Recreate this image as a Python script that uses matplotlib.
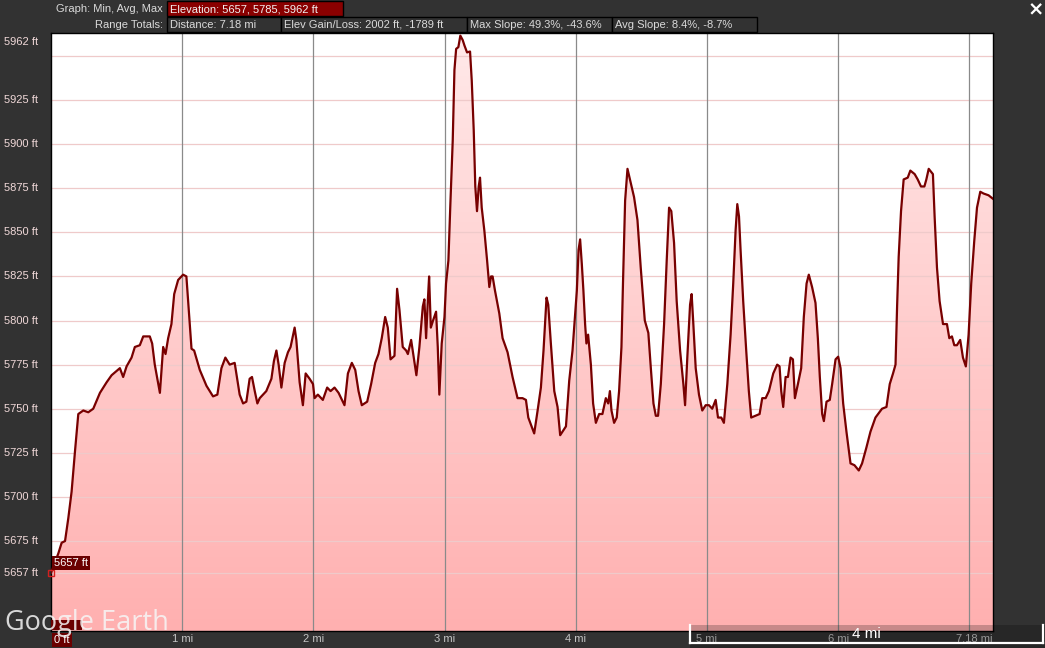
import matplotlib
matplotlib.use("Agg")
import matplotlib.pyplot as plt
import numpy as np
from matplotlib.patches import Rectangle, Polygon
from matplotlib.lines import Line2D
from matplotlib.colors import LinearSegmentedColormap
from matplotlib.transforms import ScaledTranslation

# ---------------- data ----------------
distance_mi = [
    0.000, 0.056, 0.081, 0.107, 0.132, 0.157, 0.183, 0.208, 0.246, 0.284, 0.322, 0.373, 0.424, 0.462,
    0.525, 0.550, 0.576, 0.614, 0.639, 0.677, 0.703, 0.753, 0.771, 0.791, 0.830, 0.855, 0.873, 0.893,
    0.918, 0.939, 0.969, 1.007, 1.032, 1.050, 1.071, 1.091, 1.134, 1.185, 1.235, 1.268, 1.299, 1.329,
    1.362, 1.400, 1.438, 1.464, 1.489, 1.514, 1.532, 1.553, 1.573, 1.591, 1.641, 1.680, 1.699, 1.718,
    1.735, 1.756, 1.781, 1.806, 1.826, 1.857, 1.870, 1.895, 1.920, 1.941, 1.971, 1.997, 2.009, 2.034,
    2.072, 2.105, 2.131, 2.161, 2.192, 2.237, 2.263, 2.293, 2.319, 2.344, 2.369, 2.410, 2.440, 2.471,
    2.496, 2.521, 2.547, 2.567, 2.588, 2.618, 2.638, 2.656, 2.681, 2.707, 2.720, 2.745, 2.765, 2.785,
    2.808, 2.834, 2.846, 2.859, 2.872, 2.882, 2.895, 2.912, 2.935, 2.948, 2.960, 2.978, 2.999, 3.011,
    3.029, 3.044, 3.062, 3.075, 3.088, 3.105, 3.120, 3.138, 3.151, 3.171, 3.194, 3.207, 3.222, 3.234,
    3.247, 3.260, 3.270, 3.283, 3.303, 3.324, 3.341, 3.354, 3.366, 3.384, 3.417, 3.442, 3.480, 3.518,
    3.556, 3.594, 3.620, 3.638, 3.663, 3.683, 3.709, 3.734, 3.754, 3.777, 3.790, 3.810, 3.836, 3.861,
    3.881, 3.899, 3.925, 3.950, 3.975, 4.008, 4.021, 4.033, 4.046, 4.058, 4.071, 4.081, 4.094, 4.115,
    4.132, 4.153, 4.178, 4.203, 4.229, 4.247, 4.260, 4.272, 4.292, 4.312, 4.330, 4.348, 4.360, 4.376,
    4.394, 4.419, 4.444, 4.470, 4.495, 4.526, 4.553, 4.572, 4.592, 4.610, 4.627, 4.648, 4.673, 4.693,
    4.711, 4.728, 4.749, 4.769, 4.795, 4.820, 4.833, 4.850, 4.871, 4.883, 4.896, 4.914, 4.939, 4.964,
    4.990, 5.015, 5.040, 5.066, 5.084, 5.109, 5.129, 5.155, 5.180, 5.200, 5.218, 5.231, 5.244, 5.256,
    5.276, 5.299, 5.319, 5.337, 5.370, 5.401, 5.421, 5.447, 5.472, 5.505, 5.535, 5.553, 5.566, 5.581,
    5.599, 5.617, 5.637, 5.655, 5.670, 5.693, 5.718, 5.738, 5.759, 5.776, 5.801, 5.827, 5.845, 5.860,
    5.878, 5.891, 5.911, 5.936, 5.954, 5.980, 6.000, 6.018, 6.038, 6.063, 6.094, 6.124, 6.157, 6.182,
    6.215, 6.246, 6.284, 6.334, 6.368, 6.393, 6.418, 6.437, 6.449, 6.461, 6.479, 6.499, 6.530, 6.550,
    6.583, 6.606, 6.631, 6.657, 6.672, 6.690, 6.722, 6.735, 6.753, 6.773, 6.799, 6.829, 6.847, 6.867,
    6.885, 6.905, 6.930, 6.951, 6.973, 6.994, 7.014, 7.037, 7.058, 7.083, 7.108, 7.146, 7.180,
]
elevation_ft = [
    5657, 5668, 5674, 5675, 5688, 5703, 5726, 5747, 5749, 5748, 5750, 5759, 5765, 5769,
    5773, 5768, 5774, 5779, 5785, 5786, 5791, 5791, 5787, 5775, 5759, 5785, 5781, 5790,
    5798, 5815, 5823, 5826, 5825, 5806, 5784, 5783, 5772, 5763, 5757, 5758, 5773, 5779,
    5775, 5776, 5758, 5753, 5754, 5767, 5768, 5760, 5753, 5756, 5760, 5767, 5777, 5783,
    5775, 5762, 5776, 5782, 5785, 5796, 5789, 5765, 5752, 5770, 5767, 5764, 5756, 5758,
    5755, 5762, 5760, 5762, 5759, 5752, 5770, 5776, 5772, 5760, 5752, 5754, 5764, 5776,
    5781, 5790, 5802, 5796, 5778, 5780, 5818, 5806, 5785, 5783, 5781, 5789, 5779, 5769,
    5785, 5808, 5812, 5790, 5811, 5825, 5796, 5800, 5805, 5785, 5758, 5787, 5802, 5821,
    5834, 5866, 5902, 5942, 5954, 5955, 5961.5, 5959, 5956, 5952, 5952.5, 5936, 5908, 5876,
    5862, 5876, 5881, 5864, 5851, 5834, 5819, 5825, 5825, 5817, 5804, 5790, 5782, 5768,
    5756, 5756, 5755, 5745, 5740, 5736, 5749, 5762, 5783, 5813, 5809, 5787, 5760, 5751,
    5735, 5737, 5740, 5766, 5783, 5817, 5840, 5846, 5832, 5817, 5798, 5787, 5792, 5775,
    5753, 5742, 5747, 5747, 5756, 5753, 5760, 5749, 5742, 5745, 5760, 5785, 5822, 5868,
    5886, 5878, 5870, 5857, 5830, 5800, 5793, 5773, 5753, 5746, 5746, 5764, 5798, 5834,
    5864, 5862, 5844, 5811, 5783, 5764, 5752, 5779, 5809, 5815, 5798, 5773, 5758, 5749,
    5752, 5752, 5750, 5755, 5745, 5745, 5742, 5764, 5792, 5821, 5851, 5866, 5859, 5840,
    5811, 5783, 5760, 5745, 5746, 5747, 5756, 5756, 5760, 5770, 5775, 5774, 5760, 5751,
    5768, 5768, 5779, 5778, 5756, 5764, 5773, 5802, 5821, 5826, 5819, 5810, 5790, 5768,
    5747, 5743, 5754, 5755, 5764, 5778, 5779.5, 5773, 5753, 5737, 5719, 5718, 5715, 5719,
    5728, 5737, 5745, 5750, 5751, 5764, 5770, 5775, 5808, 5836, 5862, 5880, 5881, 5885,
    5883, 5880, 5876, 5876, 5880, 5886, 5883, 5859, 5830, 5811, 5798, 5798, 5790, 5791,
    5786, 5786, 5789, 5779, 5774, 5792, 5821, 5845, 5864, 5873, 5872, 5871, 5869,
]

y_grid_values = [5657, 5675, 5700, 5725, 5750, 5775, 5800, 5825, 5850, 5875, 5900, 5925, 5950]
y_label_values = [5657, 5675, 5700, 5725, 5750, 5775, 5800, 5825, 5850, 5875, 5900, 5925]
y_top_label = 5962
x_grid_values = [1, 2, 3, 4, 5, 6, 7]
x_label_values = [1, 2, 3, 4, 5, 6, 7.18]
x_label_texts = ["1 mi", "2 mi", "3 mi", "4 mi", "5 mi", "6 mi", "7.18 mi"]

header_row1_label = "Graph: Min, Avg, Max"
header_row1_box = "Elevation: 5657, 5785, 5962 ft"
header_row2_label = "Range Totals:"
header_row2_boxes = ["Distance: 7.18 mi", "Elev Gain/Loss: 2002 ft, -1789 ft",
                     "Max Slope: 49.3%, -43.6%", "Avg Slope: 8.4%, -8.7%"]

# ---------------- figure ----------------
W, H = 1045, 648
BG = "#323232"
plt.rcParams["font.family"] = ["Liberation Sans", "DejaVu Sans"]
fig = plt.figure(figsize=(W / 100, H / 100), dpi=100, facecolor=BG)


def fx(px):
    return px / W


def fy(py):
    return (H - py) / H


ax_l, ax_r, ax_t, ax_b = 51, 993, 33, 631
ax = fig.add_axes([fx(ax_l), fy(ax_b), (ax_r - ax_l) / W, (ax_b - ax_t) / H])
ax.set_facecolor("white")
XMIN, XMAX = 0, 7.18
YMIN, YMAX = 5624, 5963

# gradient fill under the profile
cmap = LinearSegmentedColormap.from_list("pinkgrad", ["#ffb0b0", "#ffe9e9"])
grad = np.linspace(0, 1, 256).reshape(-1, 1)
im = ax.imshow(grad, extent=[XMIN, XMAX, YMIN, YMAX], origin="lower", aspect="auto",
               cmap=cmap, zorder=1, interpolation="bilinear")
poly_x = [distance_mi[0]] + list(distance_mi) + [distance_mi[-1]]
poly_y = [YMIN] + list(elevation_ft) + [YMIN]
clip = Polygon(np.column_stack([poly_x, poly_y]), closed=True, transform=ax.transData,
               facecolor="none", edgecolor="none")
ax.add_patch(clip)
im.set_clip_path(clip)

for v in y_grid_values:
    ax.axhline(v, color="#efcaca", lw=0.9, zorder=2)
for v in x_grid_values:
    ax.axvline(v, color="#8a8a8a", lw=0.9, zorder=2)

ax.plot(distance_mi, elevation_ft, color="#780000", lw=1.6, zorder=4, solid_joinstyle="round")

ax.set_xlim(XMIN, XMAX)
ax.set_ylim(YMIN, YMAX)
ax.set_xticks([])
ax.set_yticks([])
for s in ax.spines.values():
    s.set_color("black")
    s.set_linewidth(1.0)

# y labels
ytr = ax.get_yaxis_transform()
lab_x = -47 / (ax_r - ax_l)
for v in y_label_values:
    ax.text(lab_x, v, f"{v} ft", transform=ytr, ha="left", va="center",
            color="#f0d8d8", fontsize=8, clip_on=False)
ax.text(lab_x, y_top_label, f"{y_top_label} ft",
        transform=ytr + ScaledTranslation(0, -7 / 100, fig.dpi_scale_trans),
        ha="left", va="center", color="#f0d8d8", fontsize=8, clip_on=False)

# x labels
xtr = ax.get_xaxis_transform()
lab_y = -8.5 / (ax_b - ax_t)
for v, t in zip(x_label_values, x_label_texts):
    ha = "right" if v == x_label_values[-1] else "center"
    ax.text(v, lab_y, t, transform=xtr, ha=ha, va="center", color="#c4c4c4",
            fontsize=8, clip_on=False)

# start marker and its label
ax.plot([distance_mi[0]], [elevation_ft[0]], marker="s", ms=5, mfc="none", mec="#d42020",
        mew=1.0, clip_on=False, zorder=6)
ax.annotate(f"{elevation_ft[0]} ft", xy=(distance_mi[0], elevation_ft[0]), xytext=(3, 10),
            textcoords="offset pixels", ha="left", va="center", color="white", fontsize=8,
            bbox=dict(boxstyle="square,pad=0.18", fc="#6a0000", ec="none"), zorder=7,
            annotation_clip=False)

# ---------------- header ----------------
hdr_col = "#dadada"
fig.text(fx(163), fy(9), header_row1_label, ha="right", va="center", color=hdr_col, fontsize=8)
fig.patches.append(Rectangle((fx(167), fy(16)), fx(343) - fx(167), fy(1) - fy(16),
                             transform=fig.transFigure, fc="#8a0000", ec="black", lw=1))
fig.text(fx(170), fy(9), header_row1_box, ha="left", va="center", color="#f2f2f2", fontsize=8)

fig.text(fx(163), fy(24.5), header_row2_label, ha="right", va="center", color=hdr_col, fontsize=8)
edges = [167, 281, 467, 612, 757]
for i, t in enumerate(header_row2_boxes):
    l, r = edges[i], edges[i + 1]
    fig.patches.append(Rectangle((fx(l), fy(32)), fx(r) - fx(l), fy(17) - fy(32),
                                 transform=fig.transFigure, fc=BG, ec="black", lw=1))
    fig.text(fx(l + 3), fy(24.5), t, ha="left", va="center", color=hdr_col, fontsize=8)

fig.text(fx(1036), fy(10), "×", ha="center", va="center", color="white", fontsize=14,
         fontweight="bold", family="DejaVu Sans")

# ---------------- bottom overlays ----------------
fig.patches.append(Rectangle((fx(51), fy(630)), fx(82) - fx(51), fy(620) - fy(630),
                             transform=fig.transFigure, fc="#6a0000", ec="none", zorder=5))
fig.text(fx(54), fy(640), "0 ft", ha="left", va="center", color="white", fontsize=8, zorder=6,
         bbox=dict(boxstyle="square,pad=0.2", fc="#6a0000", ec="none"))

fig.text(fx(5), fy(630), "Google Earth", ha="left", va="baseline", color="#f6f6f6", alpha=0.85,
         fontsize=19.5, family=["Open Sans", "DejaVu Sans"], zorder=8)

fig.patches.append(Rectangle((fx(690), 0), 1 - fx(690), fy(625), transform=fig.transFigure,
                             fc="black", ec="none", alpha=0.22, zorder=9))
for (x0, y0, x1, y1) in [(690, 625, 690, 643), (690, 643, 1043, 643), (1043, 625, 1043, 643)]:
    fig.lines.append(Line2D([fx(x0), fx(x1)], [fy(y0), fy(y1)], transform=fig.transFigure,
                            color="white", lw=1.6, zorder=10))
fig.text(fx(866), fy(634), "4 mi", ha="center", va="center", color="white", fontsize=11, zorder=10)

fig.savefig("out.png", dpi=100, facecolor=BG)
